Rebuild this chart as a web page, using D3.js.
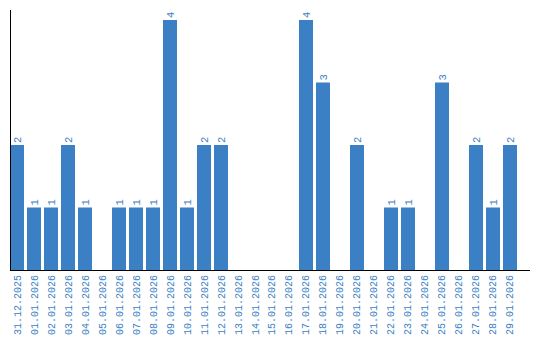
<!DOCTYPE html>
<html><head><meta charset="utf-8">
<script src="https://cdn.jsdelivr.net/npm/d3@7/dist/d3.min.js"></script>
<style>body{margin:0;background:#fff}svg{display:block}</style>
</head><body><svg id="c" width="540" height="340"></svg>
<script>
const categories = ["31.12.2025","01.01.2026","02.01.2026","03.01.2026","04.01.2026","05.01.2026","06.01.2026","07.01.2026","08.01.2026","09.01.2026","10.01.2026","11.01.2026","12.01.2026","13.01.2026","14.01.2026","15.01.2026","16.01.2026","17.01.2026","18.01.2026","19.01.2026","20.01.2026","21.01.2026","22.01.2026","23.01.2026","24.01.2026","25.01.2026","26.01.2026","27.01.2026","28.01.2026","29.01.2026"];
const values = [2,1,1,2,1,0,1,1,1,4,1,2,2,0,0,0,0,4,3,0,2,0,1,1,0,3,0,2,1,2];

const data = categories.map((c, i) => ({c, v: values[i]}));
const svg = d3.select("#c");
const blue = "#3b7fc4";
const font = "'Liberation Mono', monospace";
const x = d3.scaleBand().domain(categories).range([10, 517]).paddingInner(0.176).paddingOuter(0);
const y = d3.scaleLinear().domain([0, 4]).range([270, 20]);

svg.selectAll("rect.bar").data(data).join("rect")
  .attr("class","bar")
  .attr("x", d => x(d.c))
  .attr("width", x.bandwidth())
  .attr("y", d => y(d.v))
  .attr("height", d => y(0) - y(d.v))
  .attr("fill", blue);

svg.selectAll("text.val").data(data.filter(d => d.v > 0)).join("text")
  .attr("class","val")
  .attr("transform", d => `translate(${x(d.c) + x.bandwidth()/2},${y(d.v) - 2}) rotate(-90)`)
  .attr("dy", "0.35em")
  .attr("font-family", font).attr("font-size", 10.5).attr("fill", blue)
  .text(d => d.v);

const xAxis = d3.axisBottom(x).tickSize(0).tickPadding(0);
const gx = svg.append("g").attr("transform", "translate(0,270)").call(xAxis);
gx.select(".domain").remove();
gx.selectAll("text")
  .attr("font-family", font).attr("font-size", 10).attr("fill", blue)
  .attr("text-anchor", "end")
  .attr("transform", "rotate(-90)")
  .attr("x", -5).attr("y", 0).attr("dy", "0.35em");

svg.append("line").attr("x1", 10).attr("x2", 530).attr("y1", 270.5).attr("y2", 270.5).attr("stroke", "#000").attr("stroke-width", 1);
svg.append("line").attr("x1", 10.5).attr("x2", 10.5).attr("y1", 10).attr("y2", 270).attr("stroke", "#000").attr("stroke-width", 1);
</script></body></html>
